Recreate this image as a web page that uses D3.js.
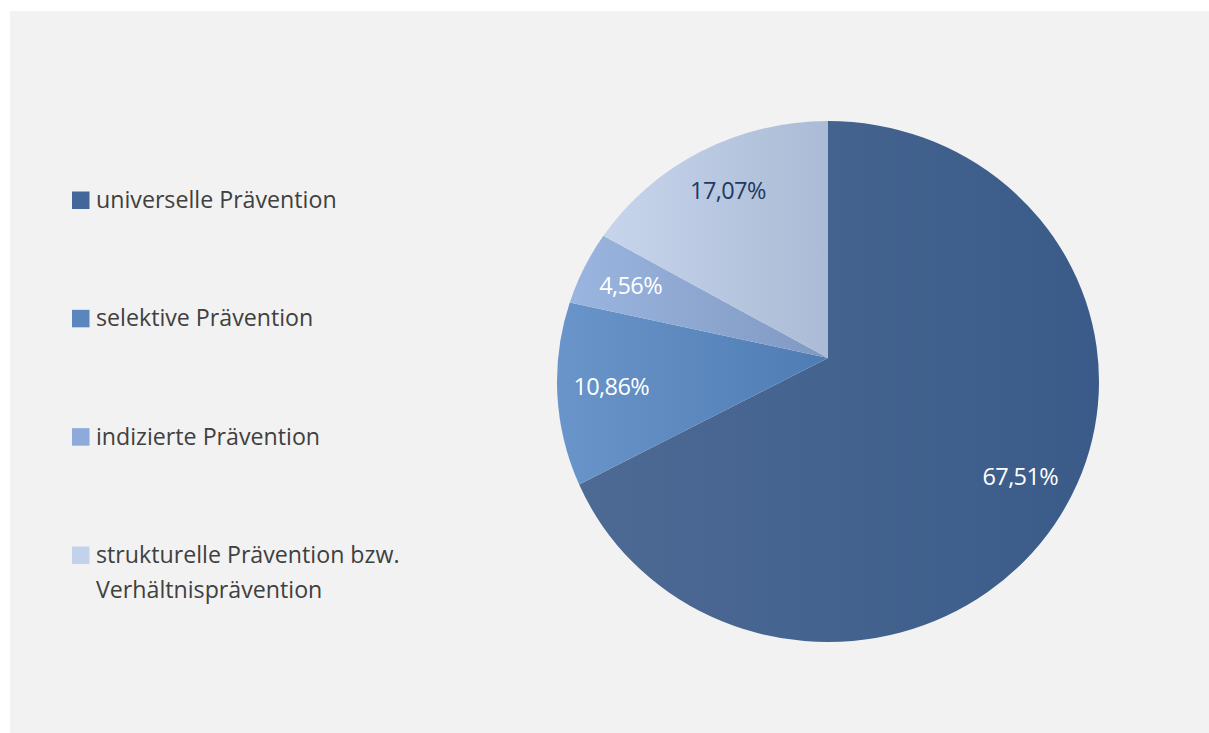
<!DOCTYPE html>
<html>
<head>
<meta charset="utf-8">
<script src="https://cdn.jsdelivr.net/npm/d3@7"></script>
<style>
  html, body { margin: 0; padding: 0; background: #ffffff; }
  svg { display: block; }
</style>
</head>
<body>
<svg id="chart" width="1209" height="733"></svg>
<script>
// ---- data ----
const categories = [
  "universelle Prävention",
  "selektive Prävention",
  "indizierte Prävention",
  "strukturelle Prävention bzw. Verhältnisprävention"
];
const legendLines = [
  ["universelle Prävention"],
  ["selektive Prävention"],
  ["indizierte Prävention"],
  ["strukturelle Prävention bzw.", "Verhältnisprävention"]
];
const values = [67.51, 10.86, 4.56, 17.07];
const valueLabels = ["67,51%", "10,86%", "4,56%", "17,07%"];

// ---- styles ----
const legendColors = ["#44679b", "#5a86bf", "#8eaadb", "#c3d2ea"];
const gradStops = [
  ["#4d6a94", "#3a5b89"],
  ["#6a95ca", "#4e7cb3"],
  ["#9ab5df", "#8099c3"],
  ["#c7d5ec", "#abbbd5"]
];
const labelColors = ["#ffffff", "#ffffff", "#ffffff", "#1f3962"];

const svg = d3.select("#chart");
const W = 1209, H = 733;

svg.append("rect").attr("x", 10).attr("y", 11).attr("width", W - 10).attr("height", H - 11)
  .attr("fill", "#f2f2f2");

const defs = svg.append("defs");
gradStops.forEach((g, i) => {
  const lg = defs.append("linearGradient").attr("id", "g" + i)
    .attr("x1", "0").attr("y1", "0").attr("x2", "1").attr("y2", "0");
  lg.append("stop").attr("offset", "0").attr("stop-color", g[0]);
  lg.append("stop").attr("offset", "1").attr("stop-color", g[1]);
});

// ---- pie geometry ----
const apex = { x: 828, y: 358 };
const ell = { cx: 828, cy: 381.5, rx: 271, ry: 260.5 };

function rayHit(theta) {
  const dx = Math.sin(theta), dy = -Math.cos(theta);
  const u = (apex.x - ell.cx) / ell.rx, v = (apex.y - ell.cy) / ell.ry;
  const a = (dx / ell.rx) ** 2 + (dy / ell.ry) ** 2;
  const b = 2 * (u * dx / ell.rx + v * dy / ell.ry);
  const c = u * u + v * v - 1;
  const t = (-b + Math.sqrt(b * b - 4 * a * c)) / (2 * a);
  return { x: apex.x + t * dx, y: apex.y + t * dy, t: t, dx: dx, dy: dy };
}
function paramAngle(p) {
  return Math.atan2((p.y - ell.cy) / ell.ry, (p.x - ell.cx) / ell.rx);
}
function slicePath(d) {
  const p0 = rayHit(d.startAngle), p1 = rayHit(d.endAngle);
  let span = paramAngle(p1) - paramAngle(p0);
  while (span < 0) span += 2 * Math.PI;
  const large = span > Math.PI ? 1 : 0;
  return `M${apex.x},${apex.y}L${p0.x},${p0.y}A${ell.rx},${ell.ry} 0 ${large} 1 ${p1.x},${p1.y}Z`;
}

const pie = d3.pie().sort(null).value(d => d).startAngle(0).endAngle(2 * Math.PI);
const arcs = pie(values);

svg.append("g").selectAll("path").data(arcs).join("path")
  .attr("d", slicePath)
  .attr("fill", (d, i) => `url(#g${i})`);

const fontFam = "'Open Sans', 'Noto Sans', sans-serif";

// labels placed "inside end": label box inset from the outer edge
const labels = svg.append("g").selectAll("text").data(arcs).join("text")
  .attr("text-anchor", "middle")
  .attr("dominant-baseline", "central")
  .attr("font-family", fontFam)
  .attr("font-size", 23.5)
  .attr("letter-spacing", -0.6)
  .attr("fill", (d, i) => labelColors[i])
  .text((d, i) => valueLabels[i]);

labels.each(function (d) {
  const bb = this.getBBox();
  const h = rayHit((d.startAngle + d.endAngle) / 2);
  const ext = Math.abs(h.dx) * bb.width / 2 + Math.abs(h.dy) * 14;
  const dist = h.t - ext - 15;
  d3.select(this).attr("x", apex.x + h.dx * dist).attr("y", apex.y + h.dy * dist);
});

// ---- legend ----
const legendY = d3.scalePoint().domain(categories).range([200, 555]);
const lg = svg.append("g");
categories.forEach((c, i) => {
  const y = legendY(c);
  lg.append("rect").attr("x", 72).attr("y", y - 8.5).attr("width", 17.5).attr("height", 17.5)
    .attr("fill", legendColors[i]);
  const t = lg.append("text").attr("x", 96).attr("y", y + 8)
    .attr("font-family", fontFam).attr("font-size", 23.2).attr("fill", "#404040");
  legendLines[i].forEach((line, j) => {
    t.append("tspan").attr("x", 96).attr("dy", j === 0 ? 0 : 35).text(line);
  });
});
</script>
</body>
</html>
